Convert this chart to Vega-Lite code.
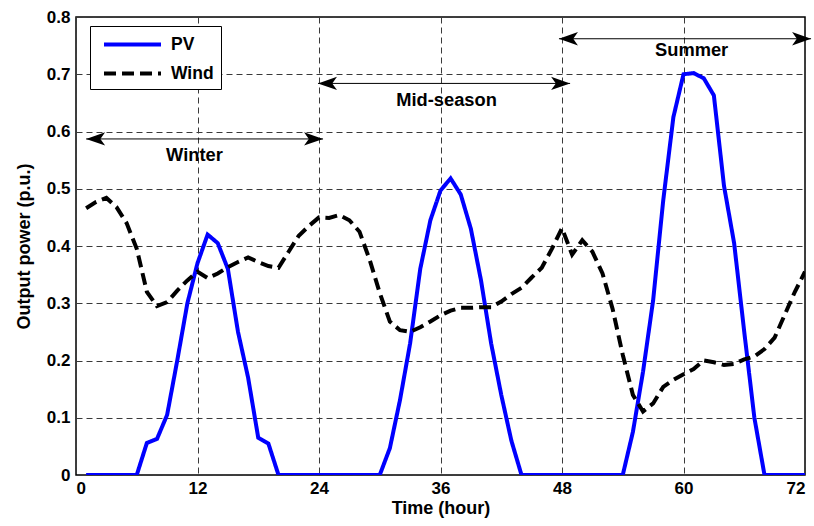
{
  "$schema": "https://vega.github.io/schema/vega-lite/v6.json",
  "width": 729,
  "height": 458,
  "autosize": {"type": "none"},
  "padding": {"left": 76, "top": 17, "right": 9, "bottom": 51},
  "background": "white",
  "config": {
    "font": "Liberation Sans",
    "view": {"stroke": "black", "strokeWidth": 1.5},
    "axis": {
      "labelFont": "Liberation Sans", "labelFontSize": 17, "labelFontWeight": "bold", "labelColor": "black",
      "titleFont": "Liberation Sans", "titleFontSize": 18, "titleFontWeight": "bold", "titleColor": "black",
      "grid": true, "gridColor": "#3a3a3a", "gridDash": [6, 4], "gridWidth": 1,
      "domain": false, "ticks": false, "tickSize": 0
    }
  },
  "datasets": {
    "series": [
      {"h":1,"s":"PV","v":0},{"h":2,"s":"PV","v":0},{"h":3,"s":"PV","v":0},{"h":4,"s":"PV","v":0},{"h":5,"s":"PV","v":0},{"h":6,"s":"PV","v":0},
      {"h":7,"s":"PV","v":0.056},{"h":8,"s":"PV","v":0.063},{"h":9,"s":"PV","v":0.105},{"h":10,"s":"PV","v":0.2},{"h":11,"s":"PV","v":0.3},{"h":12,"s":"PV","v":0.37},
      {"h":13,"s":"PV","v":0.42},{"h":14,"s":"PV","v":0.405},{"h":15,"s":"PV","v":0.36},{"h":16,"s":"PV","v":0.25},{"h":17,"s":"PV","v":0.17},{"h":18,"s":"PV","v":0.065},
      {"h":19,"s":"PV","v":0.055},{"h":20,"s":"PV","v":0},{"h":21,"s":"PV","v":0},{"h":22,"s":"PV","v":0},{"h":23,"s":"PV","v":0},{"h":24,"s":"PV","v":0},
      {"h":25,"s":"PV","v":0},{"h":26,"s":"PV","v":0},{"h":27,"s":"PV","v":0},{"h":28,"s":"PV","v":0},{"h":29,"s":"PV","v":0},{"h":30,"s":"PV","v":0},
      {"h":31,"s":"PV","v":0.047},{"h":32,"s":"PV","v":0.131},{"h":33,"s":"PV","v":0.23},{"h":34,"s":"PV","v":0.36},{"h":35,"s":"PV","v":0.445},{"h":36,"s":"PV","v":0.497},
      {"h":37,"s":"PV","v":0.518},{"h":38,"s":"PV","v":0.49},{"h":39,"s":"PV","v":0.43},{"h":40,"s":"PV","v":0.34},{"h":41,"s":"PV","v":0.23},{"h":42,"s":"PV","v":0.14},
      {"h":43,"s":"PV","v":0.06},{"h":44,"s":"PV","v":0},{"h":45,"s":"PV","v":0},{"h":46,"s":"PV","v":0},{"h":47,"s":"PV","v":0},{"h":48,"s":"PV","v":0},
      {"h":49,"s":"PV","v":0},{"h":50,"s":"PV","v":0},{"h":51,"s":"PV","v":0},{"h":52,"s":"PV","v":0},{"h":53,"s":"PV","v":0},{"h":54,"s":"PV","v":0},
      {"h":55,"s":"PV","v":0.075},{"h":56,"s":"PV","v":0.18},{"h":57,"s":"PV","v":0.305},{"h":58,"s":"PV","v":0.48},{"h":59,"s":"PV","v":0.625},{"h":60,"s":"PV","v":0.7},
      {"h":61,"s":"PV","v":0.702},{"h":62,"s":"PV","v":0.693},{"h":63,"s":"PV","v":0.663},{"h":64,"s":"PV","v":0.505},{"h":65,"s":"PV","v":0.405},{"h":66,"s":"PV","v":0.25},
      {"h":67,"s":"PV","v":0.1},{"h":68,"s":"PV","v":0},{"h":69,"s":"PV","v":0},{"h":70,"s":"PV","v":0},{"h":71,"s":"PV","v":0},{"h":72,"s":"PV","v":0},
      {"h":1,"s":"Wind","v":0.466},{"h":2,"s":"Wind","v":0.477},{"h":3,"s":"Wind","v":0.484},{"h":4,"s":"Wind","v":0.468},{"h":5,"s":"Wind","v":0.44},{"h":6,"s":"Wind","v":0.395},
      {"h":7,"s":"Wind","v":0.32},{"h":8,"s":"Wind","v":0.295},{"h":9,"s":"Wind","v":0.302},{"h":10,"s":"Wind","v":0.322},{"h":11,"s":"Wind","v":0.34},{"h":12,"s":"Wind","v":0.355},
      {"h":13,"s":"Wind","v":0.344},{"h":14,"s":"Wind","v":0.352},{"h":15,"s":"Wind","v":0.363},{"h":16,"s":"Wind","v":0.372},{"h":17,"s":"Wind","v":0.38},{"h":18,"s":"Wind","v":0.372},
      {"h":19,"s":"Wind","v":0.365},{"h":20,"s":"Wind","v":0.362},{"h":21,"s":"Wind","v":0.39},{"h":22,"s":"Wind","v":0.418},{"h":23,"s":"Wind","v":0.435},{"h":24,"s":"Wind","v":0.45},
      {"h":25,"s":"Wind","v":0.449},{"h":26,"s":"Wind","v":0.454},{"h":27,"s":"Wind","v":0.445},{"h":28,"s":"Wind","v":0.425},{"h":29,"s":"Wind","v":0.376},{"h":30,"s":"Wind","v":0.318},
      {"h":31,"s":"Wind","v":0.268},{"h":32,"s":"Wind","v":0.253},{"h":33,"s":"Wind","v":0.25},{"h":34,"s":"Wind","v":0.258},{"h":35,"s":"Wind","v":0.268},{"h":36,"s":"Wind","v":0.279},
      {"h":37,"s":"Wind","v":0.287},{"h":38,"s":"Wind","v":0.292},{"h":39,"s":"Wind","v":0.292},{"h":40,"s":"Wind","v":0.293},{"h":41,"s":"Wind","v":0.293},{"h":42,"s":"Wind","v":0.303},
      {"h":43,"s":"Wind","v":0.316},{"h":44,"s":"Wind","v":0.327},{"h":45,"s":"Wind","v":0.345},{"h":46,"s":"Wind","v":0.362},{"h":47,"s":"Wind","v":0.395},{"h":48,"s":"Wind","v":0.431},
      {"h":49,"s":"Wind","v":0.385},{"h":50,"s":"Wind","v":0.41},{"h":51,"s":"Wind","v":0.39},{"h":52,"s":"Wind","v":0.352},{"h":53,"s":"Wind","v":0.29},{"h":54,"s":"Wind","v":0.21},
      {"h":55,"s":"Wind","v":0.14},{"h":56,"s":"Wind","v":0.111},{"h":57,"s":"Wind","v":0.125},{"h":58,"s":"Wind","v":0.154},{"h":59,"s":"Wind","v":0.166},{"h":60,"s":"Wind","v":0.176},
      {"h":61,"s":"Wind","v":0.185},{"h":62,"s":"Wind","v":0.2},{"h":63,"s":"Wind","v":0.197},{"h":64,"s":"Wind","v":0.192},{"h":65,"s":"Wind","v":0.194},{"h":66,"s":"Wind","v":0.202},
      {"h":67,"s":"Wind","v":0.207},{"h":68,"s":"Wind","v":0.22},{"h":69,"s":"Wind","v":0.24},{"h":70,"s":"Wind","v":0.28},{"h":71,"s":"Wind","v":0.32},{"h":72,"s":"Wind","v":0.355}
    ],
    "arrows": [
      {"label": "Winter", "x1": 1, "x2": 24.4, "y": 0.587, "tx": 11.7, "ty": 0.558},
      {"label": "Mid-season", "x1": 23.9, "x2": 48.8, "y": 0.684, "tx": 36.6, "ty": 0.654},
      {"label": "Summer", "x1": 47.7, "x2": 72.6, "y": 0.762, "tx": 60.8, "ty": 0.74}
    ]
  },
  "layer": [
    {
      "data": {"name": "series"},
      "mark": {"type": "line", "strokeWidth": 4, "clip": true},
      "encoding": {
        "x": {"field": "h", "type": "quantitative", "scale": {"domain": [0, 72], "nice": false, "zero": false},
              "axis": {"values": [0, 12, 24, 36, 48, 60, 72], "title": "Time (hour)", "labelPadding": 5, "titlePadding": 3}},
        "y": {"field": "v", "type": "quantitative", "scale": {"domain": [0, 0.8], "nice": false},
              "axis": {"values": [0, 0.1, 0.2, 0.3, 0.4, 0.5, 0.6, 0.7, 0.8], "title": "Output power (p.u.)",
                       "labelExpr": "datum.value == 0 ? '0' : format(datum.value, '.1f')", "labelPadding": 6, "titlePadding": 13}},
        "color": {"field": "s", "type": "nominal", "scale": {"domain": ["PV", "Wind"], "range": ["#0000ff", "#000000"]},
                  "legend": {"title": null, "orient": "none", "legendX": 14, "legendY": 9,
                             "symbolType": "M-1,0 L5,0", "symbolSize": 361,
                             "symbolStrokeWidth": 4, "labelFontSize": 17.5, "labelFontWeight": "bold", "labelFont": "Liberation Sans", "labelColor": "black",
                             "strokeColor": "black", "fillColor": "white", "padding": 7, "rowPadding": 9, "labelOffset": 46, "symbolOffset": 5}},
        "strokeDash": {"field": "s", "type": "nominal", "scale": {"domain": ["PV", "Wind"], "range": [[1, 0], [12, 6]]}, "legend": null},
        "detail": {"field": "s"}
      }
    },
    {
      "data": {"name": "arrows"},
      "mark": {"type": "rule", "color": "black", "strokeWidth": 1},
      "encoding": {"x": {"field": "x1", "type": "quantitative"}, "x2": {"field": "x2"}, "y": {"field": "y", "type": "quantitative"}}
    },
    {
      "data": {"name": "arrows"},
      "mark": {"type": "point", "filled": true, "color": "black", "opacity": 1, "size": 361, "clip": false,
               "shape": "M0,0 L2,-0.7 L1.5,0 L2,0.7 Z"},
      "encoding": {"x": {"field": "x1", "type": "quantitative"}, "y": {"field": "y", "type": "quantitative"}}
    },
    {
      "data": {"name": "arrows"},
      "mark": {"type": "point", "filled": true, "color": "black", "opacity": 1, "size": 361, "clip": false,
               "shape": "M0,0 L-2,-0.7 L-1.5,0 L-2,0.7 Z"},
      "encoding": {"x": {"field": "x2", "type": "quantitative"}, "y": {"field": "y", "type": "quantitative"}}
    },
    {
      "data": {"name": "arrows"},
      "mark": {"type": "text", "font": "Liberation Sans", "fontSize": 18.3, "fontWeight": "bold", "color": "black", "baseline": "middle", "align": "center"},
      "encoding": {"x": {"field": "tx", "type": "quantitative"}, "y": {"field": "ty", "type": "quantitative"}, "text": {"field": "label"}}
    }
  ]
}
